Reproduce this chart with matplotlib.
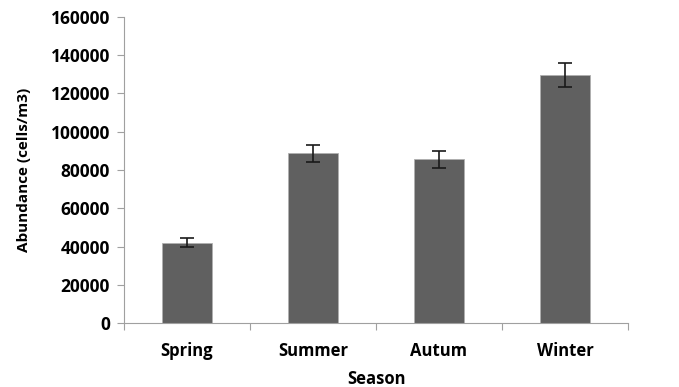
import matplotlib.pyplot as plt
import numpy as np

seasons = ["Spring", "Summer", "Autum", "Winter"]
abundance = [42000, 88800, 85600, 129700]
errors = [2200, 4500, 4500, 6500]

plt.rcParams["font.family"] = ["Open Sans", "DejaVu Sans"]
plt.rcParams["font.weight"] = "bold"

fig = plt.figure(figsize=(6.79, 3.87), dpi=100)
ax = fig.add_axes([124 / 679, 64 / 387, 504 / 679, 306 / 387])

x = np.arange(len(seasons))
ax.bar(x, abundance, width=0.4, color="#606060", edgecolor="#b0b0b0", linewidth=0.6,
       yerr=errors, error_kw=dict(ecolor="#1a1a1a", elinewidth=1.2, capsize=5, capthick=1.2))

ax.set_xlim(-0.5, len(seasons) - 0.5)
ax.set_ylim(0, 160000)
ax.set_yticks(np.arange(0, 160001, 20000))

ax.set_xticks(np.arange(-0.5, len(seasons), 1.0))
ax.set_xticklabels([])
ax.set_xticks(x, minor=True)
ax.set_xticklabels(seasons, minor=True)
ax.tick_params(axis="x", which="minor", length=0, pad=14, labelsize=12)
ax.tick_params(axis="x", which="major", length=5, color="#a0a0a0", direction="out")
ax.tick_params(axis="y", length=5, color="#a0a0a0", labelsize=12.5, pad=5)

for side in ["top", "right"]:
    ax.spines[side].set_visible(False)
for side in ["left", "bottom"]:
    ax.spines[side].set_color("#a0a0a0")

ax.set_xlabel("Season", fontsize=12, fontweight="bold", labelpad=7)
ax.set_ylabel("Abundance (cells/m3)", fontsize=11, fontweight="bold", labelpad=14)

fig.savefig("out.png", dpi=100)
